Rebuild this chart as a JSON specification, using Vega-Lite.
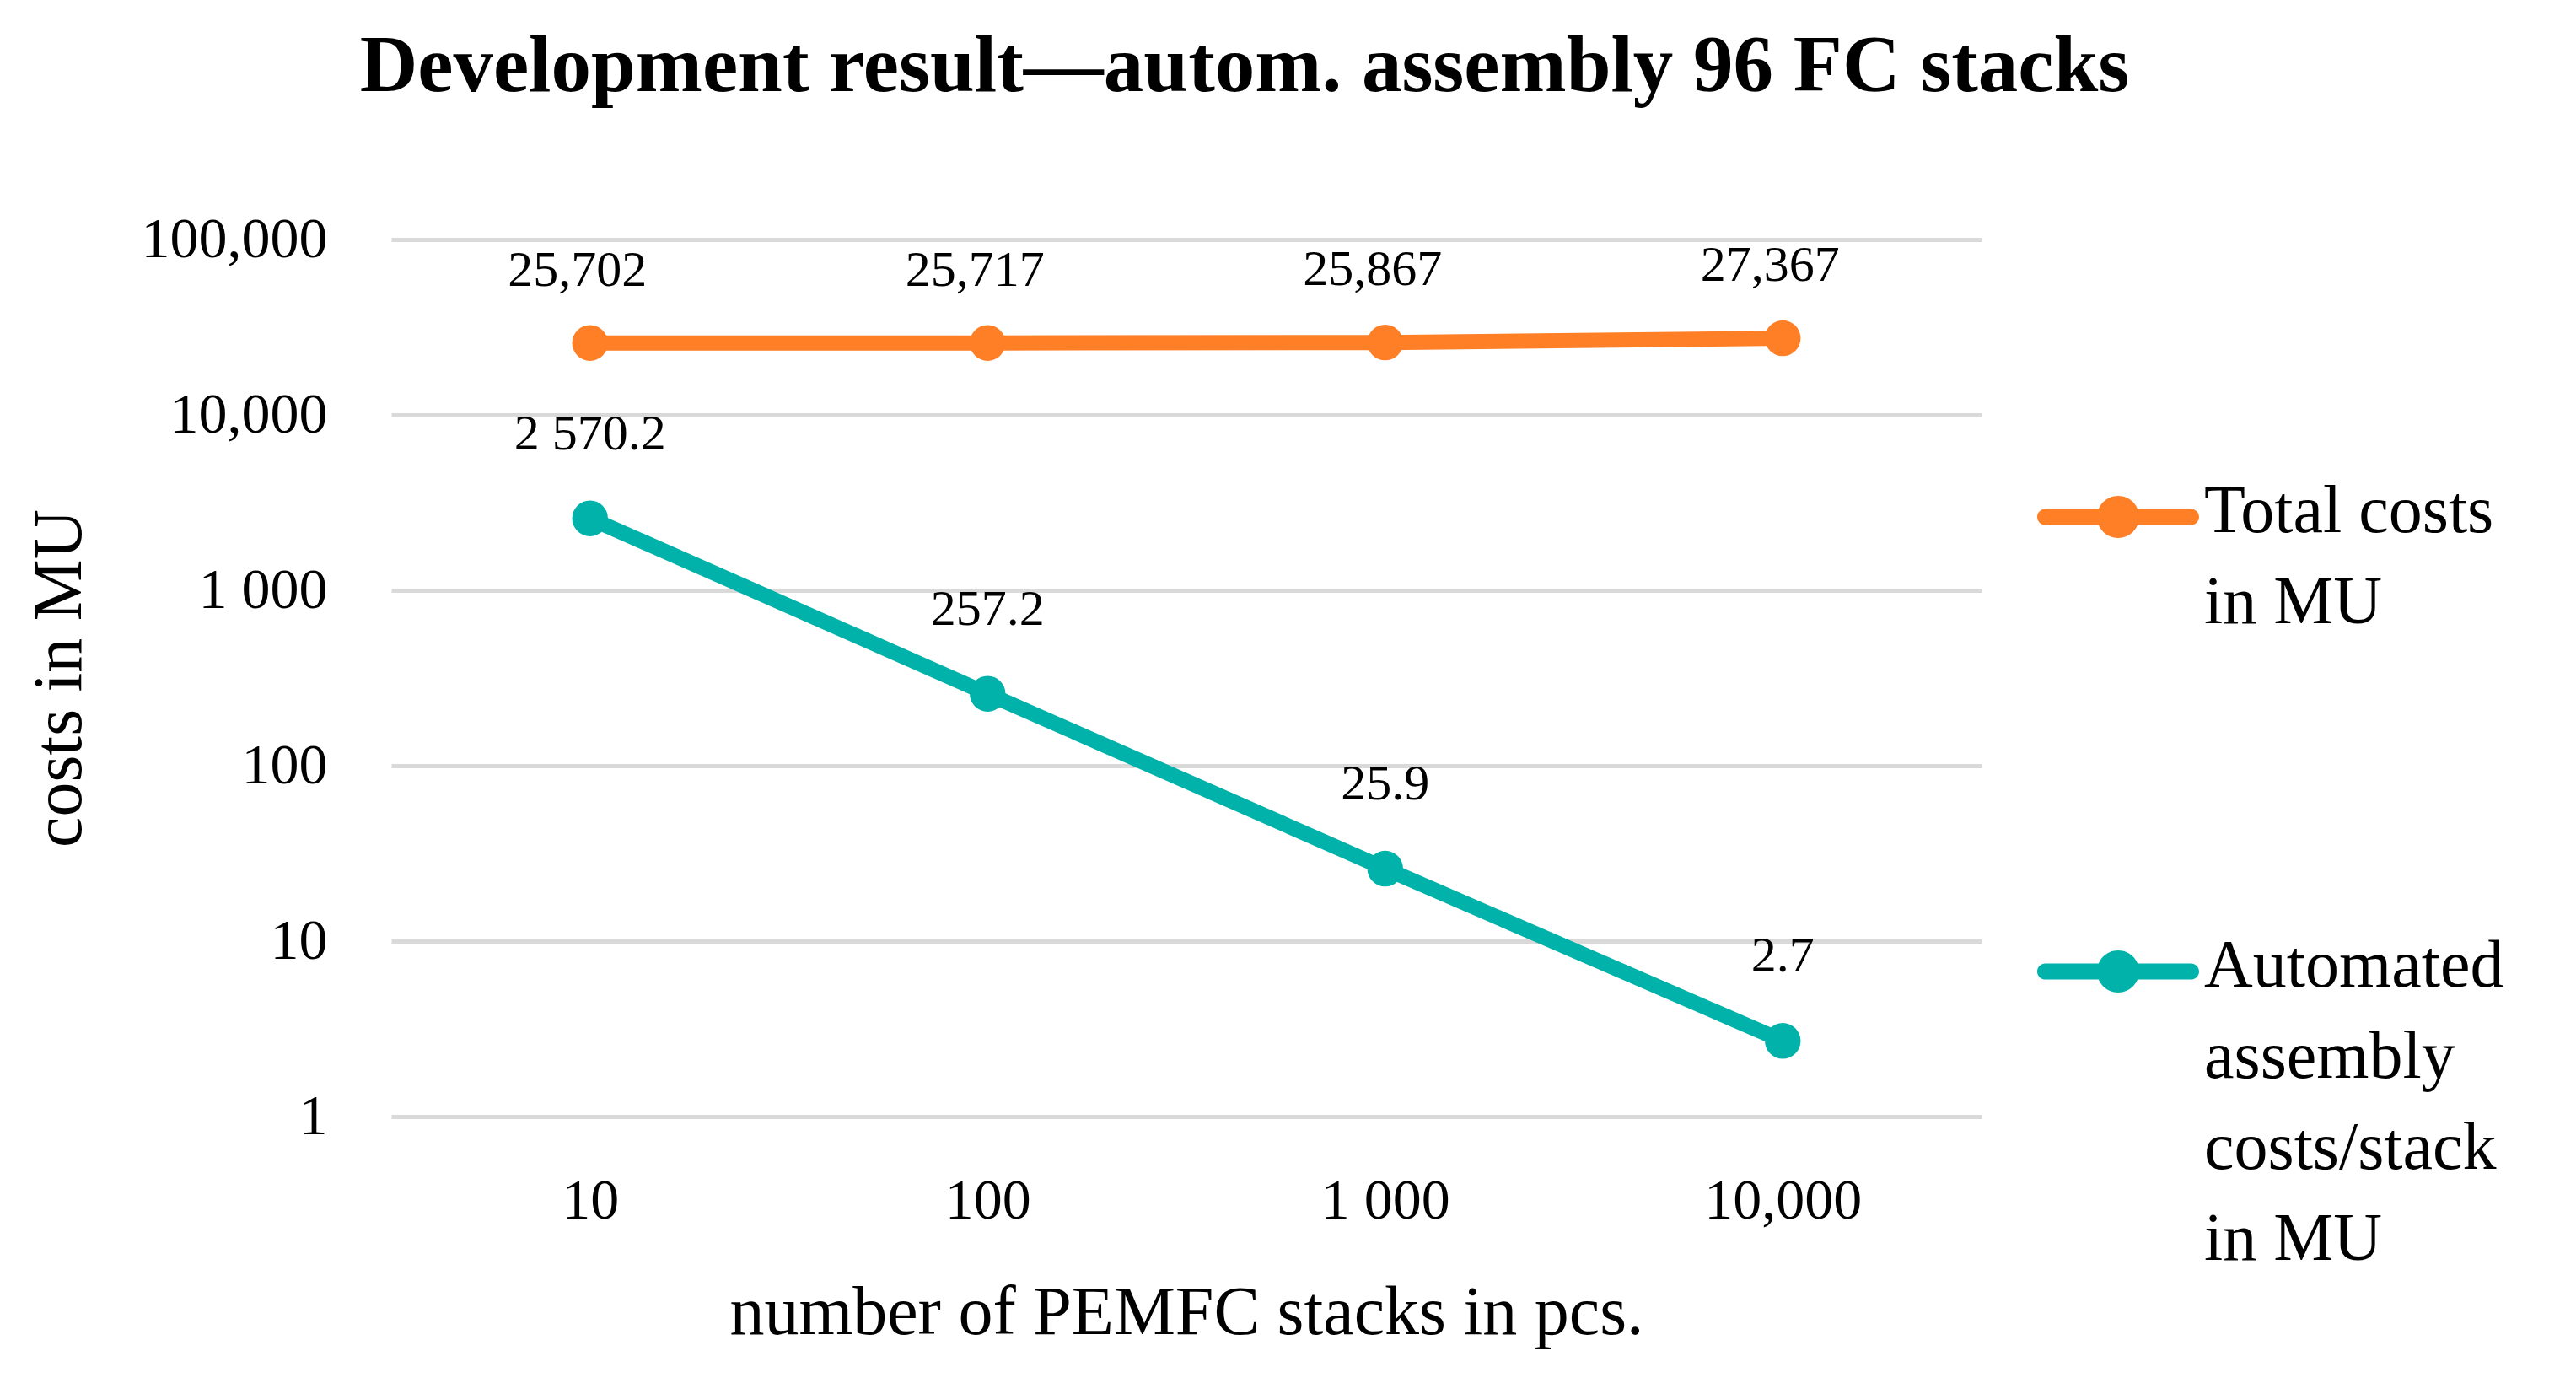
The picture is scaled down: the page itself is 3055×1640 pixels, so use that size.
{
  "$schema": "https://vega.github.io/schema/vega-lite/v6.json",
  "width": 1886,
  "height": 1040,
  "autosize": {"type": "none"},
  "padding": {"left": 464, "top": 284, "right": 705, "bottom": 316},
  "background": "white",
  "config": {"view": {"stroke": null}, "font": "Liberation Serif"},
  "title": {
    "text": "Development result\u2014autom. assembly 96 FC stacks",
    "font": "Liberation Serif",
    "fontSize": 95,
    "fontWeight": "bold",
    "color": "#000",
    "anchor": "middle",
    "dx": 69,
    "offset": 122
  },
  "data": {
    "values": [
      {"stacks": "10", "series": "Total costs in MU", "cost": 25702, "label": "25,702"},
      {"stacks": "100", "series": "Total costs in MU", "cost": 25717, "label": "25,717"},
      {"stacks": "1 000", "series": "Total costs in MU", "cost": 25867, "label": "25,867"},
      {"stacks": "10,000", "series": "Total costs in MU", "cost": 27367, "label": "27,367"},
      {"stacks": "10", "series": "Automated assembly costs/stack in MU", "cost": 2570.2, "label": "2 570.2"},
      {"stacks": "100", "series": "Automated assembly costs/stack in MU", "cost": 257.2, "label": "257.2"},
      {"stacks": "1 000", "series": "Automated assembly costs/stack in MU", "cost": 25.9, "label": "25.9"},
      {"stacks": "10,000", "series": "Automated assembly costs/stack in MU", "cost": 2.7, "label": "2.7"}
    ]
  },
  "encoding": {
    "x": {
      "field": "stacks",
      "type": "ordinal",
      "sort": ["10", "100", "1 000", "10,000"],
      "scale": {"type": "point", "padding": 0.5},
      "axis": {
        "title": "number of PEMFC stacks in pcs.",
        "labelAngle": 0,
        "domain": false,
        "ticks": false,
        "grid": false,
        "labelFont": "Liberation Serif",
        "labelFontSize": 68,
        "labelColor": "#000",
        "labelPadding": 66,
        "labelBaseline": "top",
        "labelLimit": 1000,
        "titleFont": "Liberation Serif",
        "titleFontSize": 82,
        "titleFontWeight": "normal",
        "titleColor": "#000",
        "titleY": 232,
        "titleBaseline": "middle"
      }
    },
    "y": {
      "field": "cost",
      "type": "quantitative",
      "scale": {"type": "log", "domain": [1, 100000], "nice": false},
      "axis": {
        "title": "costs in MU",
        "values": [1, 10, 100, 1000, 10000, 100000],
        "labelExpr": "datum.value >= 100000 ? '100,000' : datum.value >= 10000 ? '10,000' : datum.value >= 1000 ? '1 000' : format(datum.value, 'd')",
        "domain": false,
        "ticks": false,
        "grid": true,
        "gridColor": "#D9D9D9",
        "gridWidth": 5,
        "labelFont": "Liberation Serif",
        "labelFontSize": 68,
        "labelColor": "#000",
        "labelPadding": 76,
        "labelBaseline": "middle",
        "labelFlush": false,
        "labelOverlap": false,
        "labelLimit": 1000,
        "titleFont": "Liberation Serif",
        "titleFontSize": 82,
        "titleFontWeight": "normal",
        "titleColor": "#000",
        "titleX": -394,
        "titleY": 520,
        "titleAlign": "center",
        "titleBaseline": "middle"
      }
    }
  },
  "layer": [
    {
      "mark": {
        "type": "line",
        "strokeWidth": 18,
        "point": {"filled": true, "size": 1800, "opacity": 1}
      },
      "encoding": {
        "color": {
          "field": "series",
          "type": "nominal",
          "scale": {
            "domain": ["Total costs in MU", "Automated assembly costs/stack in MU"],
            "range": ["#FF7F27", "#00B2A9"]
          },
          "legend": {
            "title": null,
            "orient": "none",
            "legendX": 1952,
            "legendY": 233,
            "padding": 0,
            "symbolType": "M-0.9,-0.1H0.9A0.1,0.1 0 0,1 0.9,0.1H-0.9A0.1,0.1 0 0,1 -0.9,-0.1Z M-0.26,0A0.26,0.26 0 1,1 0.26,0A0.26,0.26 0 1,1 -0.26,0Z",
            "symbolSize": 36864,
            "symbolStrokeWidth": 0,
            "labelFont": "Liberation Serif",
            "labelFontSize": 80,
            "labelColor": "#000",
            "labelOffset": 6,
            "labelLimit": 1000,
            "labelBaseline": "top",
            "rowPadding": 301,
            "labelExpr": "datum.label == 'Total costs in MU' ? ['Total costs', 'in MU'] : ['Automated', 'assembly', 'costs/stack', 'in MU']",
            "encode": {
              "symbols": {"update": {"fill": {"scale": "color", "field": "value"}, "opacity": {"value": 1}}},
              "labels": {"update": {"dy": {"value": -45}, "lineHeight": {"value": 108}}}
            }
          }
        }
      }
    },
    {
      "transform": [{"filter": "datum.series == 'Total costs in MU'"}],
      "mark": {"type": "text", "dx": -15, "dy": -86, "font": "Liberation Serif", "fontSize": 60, "color": "#000", "baseline": "middle"},
      "encoding": {"text": {"field": "label"}}
    },
    {
      "transform": [{"filter": "datum.series != 'Total costs in MU'"}],
      "mark": {"type": "text", "dy": -100, "font": "Liberation Serif", "fontSize": 60, "color": "#000", "baseline": "middle"},
      "encoding": {"text": {"field": "label"}}
    }
  ]
}
